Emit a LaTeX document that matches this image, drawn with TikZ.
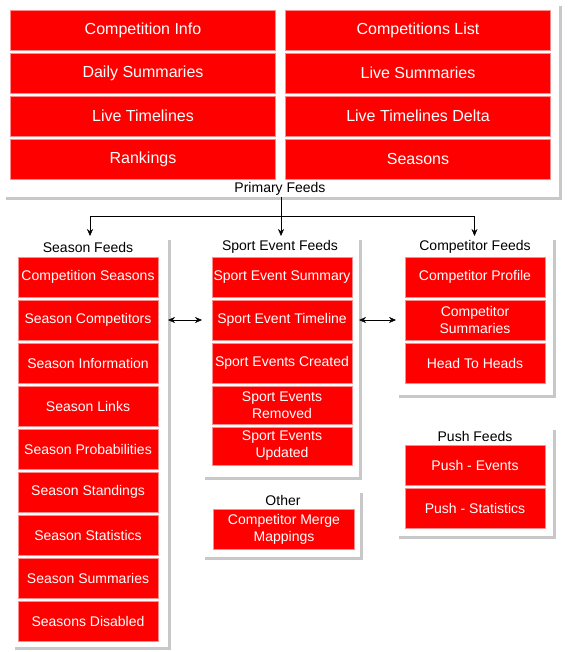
\documentclass[tikz,border=0pt]{standalone}
\usepackage{fontspec}
\setmainfont{Liberation Sans}
\usetikzlibrary{positioning,shadows,arrows.meta}
\definecolor{feedred}{RGB}{255,0,0}
\definecolor{feedline}{RGB}{255,140,140}
\definecolor{panelshadow}{RGB}{200,200,200}

\begin{document}
\begin{tikzpicture}[x=1pt,y=-1pt,node distance=3pt,>={Stealth[length=7pt,width=6pt]}]
    \tikzstyle{panel}=[rectangle,fill=white,anchor=north west,inner sep=0pt,outer sep=0pt,drop shadow={shadow xshift=3pt,shadow yshift=-3pt,fill=panelshadow,opacity=1}]
    \tikzstyle{feed}=[rectangle,draw=feedline,fill=feedred,text=white,align=center,font=\fontsize{14}{17}\selectfont,minimum width=140pt,minimum height=40pt,inner sep=1pt,outer sep=0pt]
    \tikzstyle{bigfeed}=[feed,font=\fontsize{16}{19}\selectfont,minimum width=265pt]
    \tikzstyle{title}=[font=\fontsize{14}{17}\selectfont,inner sep=0pt]
    \useasboundingbox (0,0) rectangle (569,652);

    % panels
    \node[panel,minimum width=556pt,minimum height=194pt] (primary) at (3,3) {};
    \node[panel,minimum width=156pt,minimum height=410pt] (season) at (12,237) {};
    \node[panel,minimum width=157pt,minimum height=240pt] (sport) at (202,237) {};
    \node[panel,minimum width=158pt,minimum height=67pt] (other) at (202,490) {};
    \node[panel,minimum width=157pt,minimum height=158pt] (competitor) at (396,237) {};
    \node[panel,minimum width=157pt,minimum height=109pt] (push) at (396,427) {};

    % primary feeds
    \node[bigfeed] (compinfo) at (143,30) {Competition Info};
    \node[bigfeed,below=of compinfo] (daily) {Daily Summaries};
    \node[bigfeed,below=of daily] (livetl) {Live Timelines};
    \node[bigfeed,below=of livetl] (rankings) {Rankings};
    \node[bigfeed] (complist) at (418,30) {Competitions List};
    \node[bigfeed,below=of complist] (livesum) {Live Summaries};
    \node[bigfeed,below=of livesum] (livedelta) {Live Timelines Delta};
    \node[bigfeed,below=of livedelta] (seasons) {Seasons};
    \node[title] (primarytitle) at (280,189) {Primary Feeds};

    % season feeds
    \node[title] (seasontitle) at (88,247) {Season Feeds};
    \node[feed] (compseasons) at (88,277) {Competition Seasons};
    \node[feed,below=of compseasons] (scompetitors) {Season Competitors};
    \node[feed,below=of scompetitors] (sinfo) {Season Information};
    \node[feed,below=of sinfo] (slinks) {Season Links};
    \node[feed,below=of slinks] (sprob) {Season Probabilities};
    \node[feed,below=of sprob] (sstand) {Season Standings};
    \node[feed,below=of sstand] (sstats) {Season Statistics};
    \node[feed,below=of sstats] (ssumm) {Season Summaries};
    \node[feed,below=of ssumm] (sdisabled) {Seasons Disabled};

    % sport event feeds
    \node[title] (sporttitle) at (280,247) {Sport Event Feeds};
    \node[feed] (sesummary) at (282,277) {Sport Event Summary};
    \node[feed,below=of sesummary] (setimeline) {Sport Event Timeline};
    \node[feed,below=of setimeline] (secreated) {Sport Events Created};
    \node[feed,below=of secreated,minimum height=38pt] (seremoved) {Sport Events\\Removed};
    \node[feed,below=of seremoved,minimum height=38pt] (seupdated) {Sport Events\\Updated};

    % other
    \node[title] (othertitle) at (283,500) {Other};
    \node[feed,minimum width=141pt] (merge) at (284,529) {Competitor Merge\\Mappings};

    % competitor feeds
    \node[title] (comptitle) at (475,247) {Competitor Feeds};
    \node[feed] (cprofile) at (475,277) {Competitor Profile};
    \node[feed,below=of cprofile] (csummaries) {Competitor\\Summaries};
    \node[feed,below=of csummaries] (h2h) {Head To Heads};

    % push feeds
    \node[title] (pushtitle) at (475,436) {Push Feeds};
    \node[feed] (pushevents) at (475,465) {Push - Events};
    \node[feed,below=of pushevents] (pushstats) {Push - Statistics};

    % connectors
    \draw (primary.south) -- ++(0,19) coordinate (split);
    \draw[->,shorten >=1pt] (split) -| (season.north);
    \draw[->,shorten >=1pt] (split) -- (split |- sport.north);
    \draw[->,shorten >=1pt] (split) -| (competitor.north);
    \draw[<->] (season.east |- setimeline) -- (sport.west |- setimeline);
    \draw[<->] (sport.east |- setimeline) -- (competitor.west |- setimeline);
\end{tikzpicture}
\end{document}
